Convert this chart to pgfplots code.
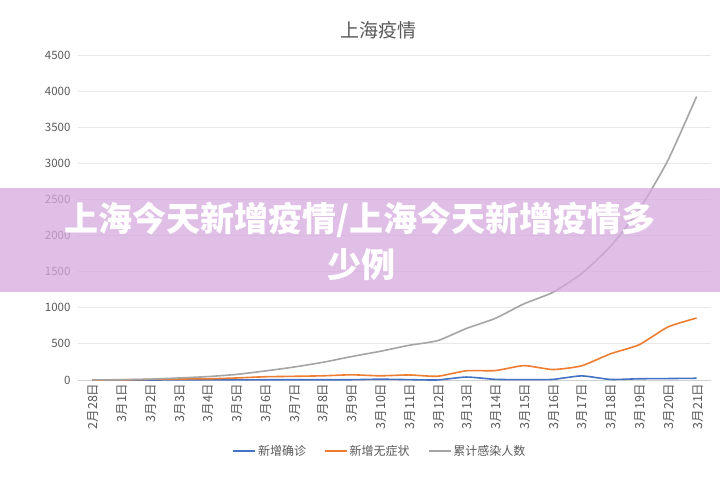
\documentclass[border=0pt]{standalone}
\usepackage{pgfplots}
\pgfplotsset{compat=1.18}
\usepackage{pgfplotstable}
\usepackage{fontspec}
\setmainfont{Noto Sans CJK SC}
\newfontfamily\cjkbold{Noto Sans CJK SC Black}

\definecolor{txtgray}{HTML}{595959}
\definecolor{gridgray}{HTML}{E8E8E8}
\definecolor{basegray}{HTML}{D0D0D0}
\definecolor{sblue}{HTML}{4472C4}
\definecolor{sorange}{HTML}{ED7D31}
\definecolor{sgray}{HTML}{A5A5A5}
\definecolor{banner}{RGB}{214,170,222}

% daily data, 2/28 .. 3/21
\pgfplotstableread{
x confirmed asymptomatic total
0  1   0    1
1  1   2    4
2  0   8    12
3  2   14   28
4  3   16   47
5  2   28   77
6  3   45   125
7  3   51   179
8  3   58   244
9  4   72   324
10 11  58   397
11 5   70   480
12 1   52   545
13 41  128  714
14 9   130  853
15 5   199  1055
16 8   145  1213
17 57  196  1473
18 8   362  1847
19 17  488  2356
20 20  734  3040
21 24  858  3925
}\datatable

\begin{document}
\begin{tikzpicture}[x=1pt,y=1pt]
\fill[white] (0,0) rectangle (720,482);
\begin{axis}[
  at={(78pt,102pt)}, anchor=south west,
  scale only axis, width=633pt, height=325pt,
  xmin=-0.5, xmax=21.5, ymin=0, ymax=4500,
  axis lines*=left,
  y axis line style={draw=none},
  x axis line style={basegray, line width=0.8pt, -},
  ymajorgrids, grid style={gridgray, line width=0.8pt},
  major tick length=0pt,
  ytick={0,500,...,4500},
  xtick={0,...,21},
  xticklabels={2月28日,3月1日,3月2日,3月3日,3月4日,3月5日,3月6日,3月7日,3月8日,3月9日,3月10日,3月11日,3月12日,3月13日,3月14日,3月15日,3月16日,3月17日,3月18日,3月19日,3月20日,3月21日},
  x tick label style={rotate=90, anchor=east, font=\fontsize{12.5}{13}\selectfont, text=txtgray, yshift=-1pt},
  y tick label style={font=\fontsize{11.5}{12}\selectfont, text=txtgray},
  /pgf/number format/assume math mode=true,
  scaled y ticks=false,
  yticklabel style={/pgf/number format/1000 sep={}},
  yticklabel shift=4pt,
  clip=false,
  legend columns=3,
  legend style={at={(0.477,-0.218)}, anchor=center, draw=none, fill=none,
    font=\fontsize{12}{13}\selectfont, text=txtgray,
    /tikz/every even column/.append style={column sep=16pt}},
  legend image code/.code={\draw[#1, line width=1.6pt] (0pt,0pt) -- (22pt,0pt);},
  every axis plot/.append style={line width=1.6pt, smooth, tension=0.35, line join=round},
]
\addplot[sblue] table[x=x, y=confirmed] {\datatable};
\addlegendentry{新增确诊}
\addplot[sorange] table[x=x, y=asymptomatic] {\datatable};
\addlegendentry{新增无症状}
\addplot[sgray] table[x=x, y=total] {\datatable};
\addlegendentry{累计感染人数}
\end{axis}
% chart title
\node[text=txtgray, font=\fontsize{19}{20}\selectfont] at (378,452) {上海疫情};
% headline band
\fill[banner, opacity=0.75] (0,190) rectangle (720,294);
\node[text=white, font=\cjkbold\fontsize{34}{36}\selectfont, inner sep=0pt] at (360,262) {上海今天新增疫情/上海今天新增疫情多};
\node[text=white, font=\cjkbold\fontsize{34}{36}\selectfont, inner sep=0pt] at (361,217) {少例};
\end{tikzpicture}
\end{document}
